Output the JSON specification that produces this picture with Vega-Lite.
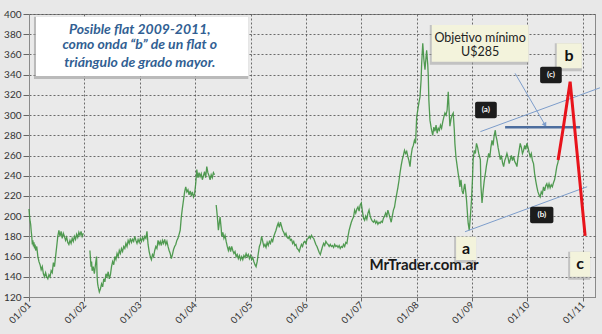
{
  "$schema": "https://vega.github.io/schema/vega-lite/v6.json",
  "width": 566,
  "height": 283,
  "autosize": {"type": "none"},
  "padding": {"left": 29, "top": 14, "right": 7, "bottom": 37},
  "background": "#e8e8e8",
  "config": {
    "view": {"fill": "#eaeaea", "stroke": "#8a8a8a", "strokeWidth": 1},
    "axis": {
      "labelFont": "Lato", "labelFontSize": 10, "labelColor": "#333333",
      "domainColor": "#8a8a8a", "tickColor": "#666666", "tickSize": 5,
      "gridColor": "#555555", "gridDash": [2, 2], "gridOpacity": 0.85, "gridWidth": 1,
      "title": null
    }
  },
  "datasets": {
    "series": [
      {"segment": 1, "year": 2001.00, "price": 207}, {"segment": 1, "year": 2001.01, "price": 200}, {"segment": 1, "year": 2001.02, "price": 195}, {"segment": 1, "year": 2001.03, "price": 192}, {"segment": 1, "year": 2001.04, "price": 185}, {"segment": 1, "year": 2001.05, "price": 180}, {"segment": 1, "year": 2001.06, "price": 172}, {"segment": 1, "year": 2001.07, "price": 176}, {"segment": 1, "year": 2001.08, "price": 170}, {"segment": 1, "year": 2001.09, "price": 174}, {"segment": 1, "year": 2001.10, "price": 168}, {"segment": 1, "year": 2001.11, "price": 172}, {"segment": 1, "year": 2001.12, "price": 166}, {"segment": 1, "year": 2001.14, "price": 170}, {"segment": 1, "year": 2001.16, "price": 160}, {"segment": 1, "year": 2001.18, "price": 155}, {"segment": 1, "year": 2001.20, "price": 152}, {"segment": 1, "year": 2001.22, "price": 147}, {"segment": 1, "year": 2001.24, "price": 150}, {"segment": 1, "year": 2001.26, "price": 143}, {"segment": 1, "year": 2001.28, "price": 140}, {"segment": 1, "year": 2001.30, "price": 144}, {"segment": 1, "year": 2001.32, "price": 140}, {"segment": 1, "year": 2001.34, "price": 138}, {"segment": 1, "year": 2001.36, "price": 142}, {"segment": 1, "year": 2001.38, "price": 140}, {"segment": 1, "year": 2001.40, "price": 146}, {"segment": 1, "year": 2001.42, "price": 144}, {"segment": 1, "year": 2001.44, "price": 154}, {"segment": 1, "year": 2001.46, "price": 150}, {"segment": 1, "year": 2001.48, "price": 160}, {"segment": 1, "year": 2001.50, "price": 170}, {"segment": 1, "year": 2001.52, "price": 180}, {"segment": 1, "year": 2001.54, "price": 186}, {"segment": 1, "year": 2001.56, "price": 180}, {"segment": 1, "year": 2001.58, "price": 185}, {"segment": 1, "year": 2001.60, "price": 178}, {"segment": 1, "year": 2001.62, "price": 183}, {"segment": 1, "year": 2001.64, "price": 180}, {"segment": 1, "year": 2001.66, "price": 176}, {"segment": 1, "year": 2001.68, "price": 179}, {"segment": 1, "year": 2001.70, "price": 174}, {"segment": 1, "year": 2001.72, "price": 172}, {"segment": 1, "year": 2001.74, "price": 176}, {"segment": 1, "year": 2001.76, "price": 173}, {"segment": 1, "year": 2001.78, "price": 178}, {"segment": 1, "year": 2001.80, "price": 175}, {"segment": 1, "year": 2001.82, "price": 180}, {"segment": 1, "year": 2001.84, "price": 177}, {"segment": 1, "year": 2001.86, "price": 182}, {"segment": 1, "year": 2001.88, "price": 179}, {"segment": 1, "year": 2001.90, "price": 184}, {"segment": 1, "year": 2001.92, "price": 181}, {"segment": 1, "year": 2001.94, "price": 185}, {"segment": 1, "year": 2001.96, "price": 180}, {"segment": 1, "year": 2001.98, "price": 183},
      {"segment": 2, "year": 2002.10, "price": 166}, {"segment": 2, "year": 2002.11, "price": 158}, {"segment": 2, "year": 2002.12, "price": 150}, {"segment": 2, "year": 2002.13, "price": 155}, {"segment": 2, "year": 2002.14, "price": 146}, {"segment": 2, "year": 2002.16, "price": 150}, {"segment": 2, "year": 2002.18, "price": 143}, {"segment": 2, "year": 2002.20, "price": 152}, {"segment": 2, "year": 2002.22, "price": 160}, {"segment": 2, "year": 2002.23, "price": 140}, {"segment": 2, "year": 2002.24, "price": 133}, {"segment": 2, "year": 2002.25, "price": 130}, {"segment": 2, "year": 2002.27, "price": 125}, {"segment": 2, "year": 2002.29, "price": 128}, {"segment": 2, "year": 2002.31, "price": 133}, {"segment": 2, "year": 2002.33, "price": 130}, {"segment": 2, "year": 2002.35, "price": 138}, {"segment": 2, "year": 2002.37, "price": 135}, {"segment": 2, "year": 2002.39, "price": 143}, {"segment": 2, "year": 2002.41, "price": 140}, {"segment": 2, "year": 2002.43, "price": 145}, {"segment": 2, "year": 2002.45, "price": 138}, {"segment": 2, "year": 2002.47, "price": 142}, {"segment": 2, "year": 2002.49, "price": 150}, {"segment": 2, "year": 2002.51, "price": 155}, {"segment": 2, "year": 2002.53, "price": 152}, {"segment": 2, "year": 2002.55, "price": 160}, {"segment": 2, "year": 2002.57, "price": 157}, {"segment": 2, "year": 2002.59, "price": 163}, {"segment": 2, "year": 2002.61, "price": 160}, {"segment": 2, "year": 2002.63, "price": 166}, {"segment": 2, "year": 2002.65, "price": 163}, {"segment": 2, "year": 2002.67, "price": 168}, {"segment": 2, "year": 2002.69, "price": 165}, {"segment": 2, "year": 2002.71, "price": 170}, {"segment": 2, "year": 2002.73, "price": 168}, {"segment": 2, "year": 2002.75, "price": 173}, {"segment": 2, "year": 2002.77, "price": 170}, {"segment": 2, "year": 2002.79, "price": 176}, {"segment": 2, "year": 2002.81, "price": 173}, {"segment": 2, "year": 2002.83, "price": 178}, {"segment": 2, "year": 2002.85, "price": 174}, {"segment": 2, "year": 2002.87, "price": 177}, {"segment": 2, "year": 2002.89, "price": 175}, {"segment": 2, "year": 2002.91, "price": 180}, {"segment": 2, "year": 2002.93, "price": 176}, {"segment": 2, "year": 2002.95, "price": 173}, {"segment": 2, "year": 2002.97, "price": 177}, {"segment": 2, "year": 2002.99, "price": 174}, {"segment": 2, "year": 2003.01, "price": 178}, {"segment": 2, "year": 2003.03, "price": 175}, {"segment": 2, "year": 2003.05, "price": 179}, {"segment": 2, "year": 2003.07, "price": 176}, {"segment": 2, "year": 2003.09, "price": 180}, {"segment": 2, "year": 2003.11, "price": 178}, {"segment": 2, "year": 2003.13, "price": 185}, {"segment": 2, "year": 2003.15, "price": 172}, {"segment": 2, "year": 2003.17, "price": 165}, {"segment": 2, "year": 2003.19, "price": 160}, {"segment": 2, "year": 2003.21, "price": 157}, {"segment": 2, "year": 2003.23, "price": 162}, {"segment": 2, "year": 2003.25, "price": 160}, {"segment": 2, "year": 2003.27, "price": 166}, {"segment": 2, "year": 2003.29, "price": 170}, {"segment": 2, "year": 2003.31, "price": 168}, {"segment": 2, "year": 2003.33, "price": 176}, {"segment": 2, "year": 2003.35, "price": 172}, {"segment": 2, "year": 2003.37, "price": 175}, {"segment": 2, "year": 2003.39, "price": 171}, {"segment": 2, "year": 2003.41, "price": 176}, {"segment": 2, "year": 2003.43, "price": 173}, {"segment": 2, "year": 2003.45, "price": 177}, {"segment": 2, "year": 2003.47, "price": 172}, {"segment": 2, "year": 2003.49, "price": 175}, {"segment": 2, "year": 2003.51, "price": 170}, {"segment": 2, "year": 2003.53, "price": 166}, {"segment": 2, "year": 2003.55, "price": 163}, {"segment": 2, "year": 2003.57, "price": 158}, {"segment": 2, "year": 2003.59, "price": 162}, {"segment": 2, "year": 2003.61, "price": 167}, {"segment": 2, "year": 2003.63, "price": 170}, {"segment": 2, "year": 2003.65, "price": 172}, {"segment": 2, "year": 2003.67, "price": 176}, {"segment": 2, "year": 2003.69, "price": 178}, {"segment": 2, "year": 2003.71, "price": 182}, {"segment": 2, "year": 2003.73, "price": 186}, {"segment": 2, "year": 2003.75, "price": 199}, {"segment": 2, "year": 2003.77, "price": 208}, {"segment": 2, "year": 2003.79, "price": 216}, {"segment": 2, "year": 2003.81, "price": 224}, {"segment": 2, "year": 2003.83, "price": 229}, {"segment": 2, "year": 2003.85, "price": 224}, {"segment": 2, "year": 2003.87, "price": 226}, {"segment": 2, "year": 2003.89, "price": 221}, {"segment": 2, "year": 2003.91, "price": 225}, {"segment": 2, "year": 2003.93, "price": 220}, {"segment": 2, "year": 2003.95, "price": 224}, {"segment": 2, "year": 2003.97, "price": 219}, {"segment": 2, "year": 2003.99, "price": 222}, {"segment": 2, "year": 2004.01, "price": 232}, {"segment": 2, "year": 2004.03, "price": 246}, {"segment": 2, "year": 2004.05, "price": 238}, {"segment": 2, "year": 2004.07, "price": 243}, {"segment": 2, "year": 2004.09, "price": 239}, {"segment": 2, "year": 2004.11, "price": 242}, {"segment": 2, "year": 2004.13, "price": 236}, {"segment": 2, "year": 2004.15, "price": 240}, {"segment": 2, "year": 2004.17, "price": 244}, {"segment": 2, "year": 2004.19, "price": 238}, {"segment": 2, "year": 2004.21, "price": 249}, {"segment": 2, "year": 2004.23, "price": 243}, {"segment": 2, "year": 2004.25, "price": 240}, {"segment": 2, "year": 2004.27, "price": 236}, {"segment": 2, "year": 2004.29, "price": 241}, {"segment": 2, "year": 2004.31, "price": 238}, {"segment": 2, "year": 2004.33, "price": 243}, {"segment": 2, "year": 2004.35, "price": 241},
      {"segment": 3, "year": 2004.38, "price": 211}, {"segment": 3, "year": 2004.40, "price": 200}, {"segment": 3, "year": 2004.42, "price": 186}, {"segment": 3, "year": 2004.44, "price": 195}, {"segment": 3, "year": 2004.45, "price": 199}, {"segment": 3, "year": 2004.47, "price": 188}, {"segment": 3, "year": 2004.48, "price": 180}, {"segment": 3, "year": 2004.50, "price": 184}, {"segment": 3, "year": 2004.52, "price": 178}, {"segment": 3, "year": 2004.54, "price": 181}, {"segment": 3, "year": 2004.56, "price": 175}, {"segment": 3, "year": 2004.58, "price": 170}, {"segment": 3, "year": 2004.60, "price": 166}, {"segment": 3, "year": 2004.62, "price": 170}, {"segment": 3, "year": 2004.64, "price": 165}, {"segment": 3, "year": 2004.66, "price": 170}, {"segment": 3, "year": 2004.68, "price": 166}, {"segment": 3, "year": 2004.70, "price": 163}, {"segment": 3, "year": 2004.72, "price": 165}, {"segment": 3, "year": 2004.74, "price": 160}, {"segment": 3, "year": 2004.76, "price": 162}, {"segment": 3, "year": 2004.78, "price": 158}, {"segment": 3, "year": 2004.80, "price": 161}, {"segment": 3, "year": 2004.82, "price": 157}, {"segment": 3, "year": 2004.84, "price": 160}, {"segment": 3, "year": 2004.86, "price": 157}, {"segment": 3, "year": 2004.88, "price": 161}, {"segment": 3, "year": 2004.90, "price": 159}, {"segment": 3, "year": 2004.92, "price": 163}, {"segment": 3, "year": 2004.94, "price": 160}, {"segment": 3, "year": 2004.96, "price": 162}, {"segment": 3, "year": 2004.98, "price": 158}, {"segment": 3, "year": 2005.00, "price": 161}, {"segment": 3, "year": 2005.02, "price": 157}, {"segment": 3, "year": 2005.04, "price": 159}, {"segment": 3, "year": 2005.06, "price": 155}, {"segment": 3, "year": 2005.08, "price": 152}, {"segment": 3, "year": 2005.10, "price": 150}, {"segment": 3, "year": 2005.12, "price": 155}, {"segment": 3, "year": 2005.14, "price": 163}, {"segment": 3, "year": 2005.16, "price": 170}, {"segment": 3, "year": 2005.18, "price": 173}, {"segment": 3, "year": 2005.20, "price": 180}, {"segment": 3, "year": 2005.22, "price": 175}, {"segment": 3, "year": 2005.24, "price": 170}, {"segment": 3, "year": 2005.26, "price": 172}, {"segment": 3, "year": 2005.28, "price": 169}, {"segment": 3, "year": 2005.30, "price": 174}, {"segment": 3, "year": 2005.32, "price": 171}, {"segment": 3, "year": 2005.34, "price": 175}, {"segment": 3, "year": 2005.36, "price": 173}, {"segment": 3, "year": 2005.38, "price": 177}, {"segment": 3, "year": 2005.40, "price": 175}, {"segment": 3, "year": 2005.42, "price": 180}, {"segment": 3, "year": 2005.44, "price": 183}, {"segment": 3, "year": 2005.46, "price": 186}, {"segment": 3, "year": 2005.48, "price": 190}, {"segment": 3, "year": 2005.50, "price": 193}, {"segment": 3, "year": 2005.52, "price": 189}, {"segment": 3, "year": 2005.54, "price": 194}, {"segment": 3, "year": 2005.56, "price": 190}, {"segment": 3, "year": 2005.58, "price": 186}, {"segment": 3, "year": 2005.60, "price": 184}, {"segment": 3, "year": 2005.62, "price": 181}, {"segment": 3, "year": 2005.64, "price": 183}, {"segment": 3, "year": 2005.66, "price": 179}, {"segment": 3, "year": 2005.68, "price": 178}, {"segment": 3, "year": 2005.70, "price": 180}, {"segment": 3, "year": 2005.72, "price": 176}, {"segment": 3, "year": 2005.74, "price": 177}, {"segment": 3, "year": 2005.76, "price": 173}, {"segment": 3, "year": 2005.78, "price": 175}, {"segment": 3, "year": 2005.80, "price": 171}, {"segment": 3, "year": 2005.82, "price": 172}, {"segment": 3, "year": 2005.84, "price": 168}, {"segment": 3, "year": 2005.86, "price": 167}, {"segment": 3, "year": 2005.88, "price": 165}, {"segment": 3, "year": 2005.90, "price": 169}, {"segment": 3, "year": 2005.92, "price": 172}, {"segment": 3, "year": 2005.94, "price": 170}, {"segment": 3, "year": 2005.96, "price": 174}, {"segment": 3, "year": 2005.98, "price": 175}, {"segment": 3, "year": 2006.00, "price": 173}, {"segment": 3, "year": 2006.02, "price": 177}, {"segment": 3, "year": 2006.04, "price": 178}, {"segment": 3, "year": 2006.06, "price": 180}, {"segment": 3, "year": 2006.08, "price": 178}, {"segment": 3, "year": 2006.10, "price": 181}, {"segment": 3, "year": 2006.12, "price": 179}, {"segment": 3, "year": 2006.14, "price": 178}, {"segment": 3, "year": 2006.16, "price": 175}, {"segment": 3, "year": 2006.18, "price": 172}, {"segment": 3, "year": 2006.20, "price": 170}, {"segment": 3, "year": 2006.22, "price": 167}, {"segment": 3, "year": 2006.24, "price": 164}, {"segment": 3, "year": 2006.26, "price": 162}, {"segment": 3, "year": 2006.28, "price": 166}, {"segment": 3, "year": 2006.30, "price": 170}, {"segment": 3, "year": 2006.32, "price": 173}, {"segment": 3, "year": 2006.34, "price": 171}, {"segment": 3, "year": 2006.36, "price": 175}, {"segment": 3, "year": 2006.38, "price": 173}, {"segment": 3, "year": 2006.40, "price": 172}, {"segment": 3, "year": 2006.42, "price": 170}, {"segment": 3, "year": 2006.44, "price": 172}, {"segment": 3, "year": 2006.46, "price": 170}, {"segment": 3, "year": 2006.48, "price": 171}, {"segment": 3, "year": 2006.50, "price": 169}, {"segment": 3, "year": 2006.52, "price": 172}, {"segment": 3, "year": 2006.54, "price": 170}, {"segment": 3, "year": 2006.56, "price": 171}, {"segment": 3, "year": 2006.58, "price": 169}, {"segment": 3, "year": 2006.60, "price": 171}, {"segment": 3, "year": 2006.62, "price": 168}, {"segment": 3, "year": 2006.64, "price": 170}, {"segment": 3, "year": 2006.66, "price": 169}, {"segment": 3, "year": 2006.68, "price": 172}, {"segment": 3, "year": 2006.70, "price": 170}, {"segment": 3, "year": 2006.72, "price": 174}, {"segment": 3, "year": 2006.74, "price": 173}, {"segment": 3, "year": 2006.76, "price": 180}, {"segment": 3, "year": 2006.78, "price": 186}, {"segment": 3, "year": 2006.80, "price": 190}, {"segment": 3, "year": 2006.82, "price": 194}, {"segment": 3, "year": 2006.84, "price": 197}, {"segment": 3, "year": 2006.86, "price": 199}, {"segment": 3, "year": 2006.88, "price": 206}, {"segment": 3, "year": 2006.90, "price": 203}, {"segment": 3, "year": 2006.92, "price": 207}, {"segment": 3, "year": 2006.94, "price": 209}, {"segment": 3, "year": 2006.96, "price": 205}, {"segment": 3, "year": 2006.98, "price": 211}, {"segment": 3, "year": 2007.00, "price": 213}, {"segment": 3, "year": 2007.02, "price": 205}, {"segment": 3, "year": 2007.04, "price": 198}, {"segment": 3, "year": 2007.06, "price": 196}, {"segment": 3, "year": 2007.08, "price": 200}, {"segment": 3, "year": 2007.10, "price": 197}, {"segment": 3, "year": 2007.12, "price": 203}, {"segment": 3, "year": 2007.14, "price": 206}, {"segment": 3, "year": 2007.16, "price": 200}, {"segment": 3, "year": 2007.18, "price": 197}, {"segment": 3, "year": 2007.20, "price": 195}, {"segment": 3, "year": 2007.22, "price": 194}, {"segment": 3, "year": 2007.24, "price": 196}, {"segment": 3, "year": 2007.26, "price": 193}, {"segment": 3, "year": 2007.28, "price": 195}, {"segment": 3, "year": 2007.30, "price": 192}, {"segment": 3, "year": 2007.32, "price": 194}, {"segment": 3, "year": 2007.34, "price": 193}, {"segment": 3, "year": 2007.36, "price": 195}, {"segment": 3, "year": 2007.38, "price": 194}, {"segment": 3, "year": 2007.40, "price": 198}, {"segment": 3, "year": 2007.42, "price": 200}, {"segment": 3, "year": 2007.44, "price": 203}, {"segment": 3, "year": 2007.46, "price": 200}, {"segment": 3, "year": 2007.48, "price": 206}, {"segment": 3, "year": 2007.50, "price": 202}, {"segment": 3, "year": 2007.52, "price": 198}, {"segment": 3, "year": 2007.54, "price": 194}, {"segment": 3, "year": 2007.56, "price": 200}, {"segment": 3, "year": 2007.58, "price": 206}, {"segment": 3, "year": 2007.60, "price": 209}, {"segment": 3, "year": 2007.62, "price": 216}, {"segment": 3, "year": 2007.64, "price": 222}, {"segment": 3, "year": 2007.66, "price": 228}, {"segment": 3, "year": 2007.68, "price": 235}, {"segment": 3, "year": 2007.70, "price": 243}, {"segment": 3, "year": 2007.72, "price": 250}, {"segment": 3, "year": 2007.74, "price": 256}, {"segment": 3, "year": 2007.76, "price": 260}, {"segment": 3, "year": 2007.78, "price": 265}, {"segment": 3, "year": 2007.80, "price": 262}, {"segment": 3, "year": 2007.82, "price": 264}, {"segment": 3, "year": 2007.84, "price": 259}, {"segment": 3, "year": 2007.86, "price": 255}, {"segment": 3, "year": 2007.88, "price": 249}, {"segment": 3, "year": 2007.90, "price": 260}, {"segment": 3, "year": 2007.92, "price": 267}, {"segment": 3, "year": 2007.94, "price": 270}, {"segment": 3, "year": 2007.96, "price": 275}, {"segment": 3, "year": 2007.98, "price": 272}, {"segment": 3, "year": 2008.00, "price": 298}, {"segment": 3, "year": 2008.02, "price": 305}, {"segment": 3, "year": 2008.04, "price": 312}, {"segment": 3, "year": 2008.06, "price": 318}, {"segment": 3, "year": 2008.08, "price": 335}, {"segment": 3, "year": 2008.09, "price": 351}, {"segment": 3, "year": 2008.11, "price": 371}, {"segment": 3, "year": 2008.13, "price": 355}, {"segment": 3, "year": 2008.15, "price": 345}, {"segment": 3, "year": 2008.17, "price": 358}, {"segment": 3, "year": 2008.18, "price": 364}, {"segment": 3, "year": 2008.20, "price": 350}, {"segment": 3, "year": 2008.21, "price": 338}, {"segment": 3, "year": 2008.22, "price": 315}, {"segment": 3, "year": 2008.24, "price": 295}, {"segment": 3, "year": 2008.26, "price": 288}, {"segment": 3, "year": 2008.27, "price": 285}, {"segment": 3, "year": 2008.29, "price": 280}, {"segment": 3, "year": 2008.31, "price": 288}, {"segment": 3, "year": 2008.33, "price": 284}, {"segment": 3, "year": 2008.35, "price": 290}, {"segment": 3, "year": 2008.37, "price": 282}, {"segment": 3, "year": 2008.39, "price": 287}, {"segment": 3, "year": 2008.41, "price": 285}, {"segment": 3, "year": 2008.43, "price": 290}, {"segment": 3, "year": 2008.45, "price": 287}, {"segment": 3, "year": 2008.47, "price": 293}, {"segment": 3, "year": 2008.49, "price": 298}, {"segment": 3, "year": 2008.51, "price": 302}, {"segment": 3, "year": 2008.53, "price": 300}, {"segment": 3, "year": 2008.55, "price": 305}, {"segment": 3, "year": 2008.57, "price": 323}, {"segment": 3, "year": 2008.59, "price": 300}, {"segment": 3, "year": 2008.60, "price": 289}, {"segment": 3, "year": 2008.62, "price": 296}, {"segment": 3, "year": 2008.64, "price": 300}, {"segment": 3, "year": 2008.66, "price": 302}, {"segment": 3, "year": 2008.68, "price": 285}, {"segment": 3, "year": 2008.69, "price": 272}, {"segment": 3, "year": 2008.71, "price": 258}, {"segment": 3, "year": 2008.73, "price": 250}, {"segment": 3, "year": 2008.75, "price": 242}, {"segment": 3, "year": 2008.77, "price": 235}, {"segment": 3, "year": 2008.78, "price": 229}, {"segment": 3, "year": 2008.80, "price": 236}, {"segment": 3, "year": 2008.82, "price": 225}, {"segment": 3, "year": 2008.84, "price": 222}, {"segment": 3, "year": 2008.86, "price": 230}, {"segment": 3, "year": 2008.87, "price": 232}, {"segment": 3, "year": 2008.89, "price": 222}, {"segment": 3, "year": 2008.90, "price": 216}, {"segment": 3, "year": 2008.92, "price": 200}, {"segment": 3, "year": 2008.93, "price": 193}, {"segment": 3, "year": 2008.95, "price": 186}, {"segment": 3, "year": 2008.97, "price": 200}, {"segment": 3, "year": 2008.99, "price": 216}, {"segment": 3, "year": 2009.01, "price": 240}, {"segment": 3, "year": 2009.02, "price": 256}, {"segment": 3, "year": 2009.04, "price": 265}, {"segment": 3, "year": 2009.06, "price": 262}, {"segment": 3, "year": 2009.08, "price": 272}, {"segment": 3, "year": 2009.10, "price": 268}, {"segment": 3, "year": 2009.12, "price": 262}, {"segment": 3, "year": 2009.15, "price": 256}, {"segment": 3, "year": 2009.16, "price": 230}, {"segment": 3, "year": 2009.18, "price": 213}, {"segment": 3, "year": 2009.20, "price": 225}, {"segment": 3, "year": 2009.22, "price": 235}, {"segment": 3, "year": 2009.24, "price": 242}, {"segment": 3, "year": 2009.26, "price": 250}, {"segment": 3, "year": 2009.28, "price": 256}, {"segment": 3, "year": 2009.30, "price": 262}, {"segment": 3, "year": 2009.32, "price": 258}, {"segment": 3, "year": 2009.34, "price": 268}, {"segment": 3, "year": 2009.36, "price": 275}, {"segment": 3, "year": 2009.38, "price": 270}, {"segment": 3, "year": 2009.40, "price": 280}, {"segment": 3, "year": 2009.42, "price": 285}, {"segment": 3, "year": 2009.43, "price": 280}, {"segment": 3, "year": 2009.45, "price": 275}, {"segment": 3, "year": 2009.47, "price": 268}, {"segment": 3, "year": 2009.49, "price": 262}, {"segment": 3, "year": 2009.51, "price": 256}, {"segment": 3, "year": 2009.53, "price": 260}, {"segment": 3, "year": 2009.55, "price": 253}, {"segment": 3, "year": 2009.57, "price": 249}, {"segment": 3, "year": 2009.59, "price": 255}, {"segment": 3, "year": 2009.61, "price": 258}, {"segment": 3, "year": 2009.63, "price": 262}, {"segment": 3, "year": 2009.65, "price": 258}, {"segment": 3, "year": 2009.67, "price": 252}, {"segment": 3, "year": 2009.69, "price": 256}, {"segment": 3, "year": 2009.71, "price": 260}, {"segment": 3, "year": 2009.73, "price": 255}, {"segment": 3, "year": 2009.75, "price": 259}, {"segment": 3, "year": 2009.77, "price": 254}, {"segment": 3, "year": 2009.79, "price": 252}, {"segment": 3, "year": 2009.81, "price": 249}, {"segment": 3, "year": 2009.83, "price": 258}, {"segment": 3, "year": 2009.85, "price": 265}, {"segment": 3, "year": 2009.87, "price": 272}, {"segment": 3, "year": 2009.89, "price": 268}, {"segment": 3, "year": 2009.91, "price": 262}, {"segment": 3, "year": 2009.93, "price": 265}, {"segment": 3, "year": 2009.95, "price": 270}, {"segment": 3, "year": 2009.97, "price": 266}, {"segment": 3, "year": 2009.99, "price": 272}, {"segment": 3, "year": 2010.01, "price": 268}, {"segment": 3, "year": 2010.03, "price": 263}, {"segment": 3, "year": 2010.05, "price": 259}, {"segment": 3, "year": 2010.07, "price": 262}, {"segment": 3, "year": 2010.09, "price": 255}, {"segment": 3, "year": 2010.11, "price": 252}, {"segment": 3, "year": 2010.13, "price": 242}, {"segment": 3, "year": 2010.15, "price": 235}, {"segment": 3, "year": 2010.17, "price": 229}, {"segment": 3, "year": 2010.19, "price": 224}, {"segment": 3, "year": 2010.21, "price": 221}, {"segment": 3, "year": 2010.23, "price": 219}, {"segment": 3, "year": 2010.25, "price": 224}, {"segment": 3, "year": 2010.27, "price": 222}, {"segment": 3, "year": 2010.29, "price": 229}, {"segment": 3, "year": 2010.31, "price": 225}, {"segment": 3, "year": 2010.33, "price": 230}, {"segment": 3, "year": 2010.35, "price": 232}, {"segment": 3, "year": 2010.37, "price": 228}, {"segment": 3, "year": 2010.39, "price": 232}, {"segment": 3, "year": 2010.41, "price": 228}, {"segment": 3, "year": 2010.43, "price": 231}, {"segment": 3, "year": 2010.45, "price": 229}, {"segment": 3, "year": 2010.47, "price": 233}, {"segment": 3, "year": 2010.49, "price": 236}, {"segment": 3, "year": 2010.51, "price": 242}, {"segment": 3, "year": 2010.53, "price": 249}, {"segment": 3, "year": 2010.55, "price": 253}, {"segment": 3, "year": 2010.56, "price": 256}
    ],
    "trendlines": [
      {"line": "upper", "year": 2009.15, "price": 283.6}, {"line": "upper", "year": 2011.31, "price": 327},
      {"line": "lower", "year": 2008.874, "price": 184.6}, {"line": "lower", "year": 2011.078, "price": 229.1},
      {"line": "arrow", "year": 2009.777, "price": 341.3}, {"line": "arrow", "year": 2010.31, "price": 291}
    ],
    "target": [
      {"year": 2009.597, "price": 288}, {"year": 2010.951, "price": 288}
    ],
    "arrowhead": [{"year": 2010.319, "price": 290.2}],
    "projection": [
      {"year": 2010.554, "price": 255.6}, {"year": 2010.65, "price": 288.5}, {"year": 2010.771, "price": 333}, {"year": 2011.042, "price": 180.4}
    ],
    "whitebox": [{"year": 2001.126, "year2": 2004.96, "price": 338.7, "price2": 397.3}],
    "yellowboxes": [
      {"label": "objetivo", "year": 2008.273, "year2": 2010.018, "price": 352.8, "price2": 389.1},
      {"label": "b", "year": 2010.530, "year2": 2010.982, "price": 346.3, "price2": 371},
      {"label": "a", "year": 2008.712, "year2": 2009.073, "price": 156.6, "price2": 179.7},
      {"label": "c", "year": 2010.771, "year2": 2011.132, "price": 140, "price2": 164.8}
    ],
    "blackboxes": [
      {"label": "(c)", "year": 2010.229, "year2": 2010.62, "price": 331.4, "price2": 347.9},
      {"label": "(a)", "year": 2009.055, "year2": 2009.447, "price": 296.8, "price2": 313.2},
      {"label": "(b)", "year": 2010.048, "year2": 2010.469, "price": 192.9, "price2": 209.3}
    ],
    "titlelines": [
      {"text": "Posible flat  2009-2011,", "year": 2003.0, "price": 384.2},
      {"text": "como onda “b” de  un flat o", "year": 2003.0, "price": 369.3},
      {"text": "triángulo de  grado mayor.", "year": 2003.0, "price": 351.2}
    ],
    "notelines": [
      {"text": "Objetivo mínimo", "year": 2009.145, "price": 376},
      {"text": "U$285", "year": 2009.145, "price": 362.7}
    ],
    "waves": [
      {"text": "b", "year": 2010.753, "price": 358.4},
      {"text": "a", "year": 2008.892, "price": 167.5},
      {"text": "c", "year": 2010.951, "price": 152.6}
    ],
    "subwaves": [
      {"text": "(c)", "year": 2010.424, "price": 339.6},
      {"text": "(a)", "year": 2009.25, "price": 305},
      {"text": "(b)", "year": 2010.26, "price": 201}
    ],
    "brand": [{"text": "MrTrader.com.ar", "year": 2008.134, "price": 151.7}]
  },
  "encoding": {
    "x": {
      "field": "year", "type": "quantitative",
      "scale": {"domain": [2001, 2011.22], "nice": false, "zero": false},
      "axis": {
        "values": [2001, 2002, 2003, 2004, 2005, 2006, 2007, 2008, 2009, 2010, 2011],
        "labelExpr": "'01/' + (datum.value < 2010 ? '0' : '') + (datum.value - 2000)",
        "labelAngle": -45, "labelAlign": "right", "labelBaseline": "middle", "labelFontSize": 9.5,
        "labelPadding": 2, "grid": true, "tickSize": 4
      }
    },
    "y": {
      "field": "price", "type": "quantitative",
      "scale": {"domain": [120, 400], "nice": false, "zero": false},
      "axis": {
        "values": [120, 140, 160, 180, 200, 220, 240, 260, 280, 300, 320, 340, 360, 380, 400],
        "grid": true, "labelPadding": 2, "tickSize": 6
      }
    }
  },
  "layer": [
    {
      "data": {"name": "series"},
      "mark": {"type": "line", "stroke": "#3f9140", "strokeWidth": 1.3, "opacity": 0.9, "interpolate": "linear"},
      "encoding": {"detail": {"field": "segment"}}
    },
    {
      "data": {"name": "trendlines"},
      "mark": {"type": "line", "stroke": "#7d9dcb", "strokeWidth": 1},
      "encoding": {"detail": {"field": "line"}}
    },
    {
      "data": {"name": "arrowhead"},
      "mark": {"type": "point", "shape": "triangle-up", "angle": 150, "size": 28, "filled": true, "fill": "#7d9dcb", "opacity": 1}
    },
    {
      "data": {"name": "target"},
      "mark": {"type": "line", "stroke": "#4c6d9e", "strokeWidth": 2.5}
    },
    {
      "data": {"name": "projection"},
      "mark": {"type": "line", "stroke": "#e8131b", "strokeWidth": 3}
    },
    {
      "data": {"name": "whitebox"},
      "mark": {"type": "rect", "fill": "#9a9a9a", "opacity": 0.6, "xOffset": -2, "yOffset": 3},
      "encoding": {"x2": {"field": "year2"}, "y2": {"field": "price2"}}
    },
    {
      "data": {"name": "whitebox"},
      "mark": {"type": "rect", "fill": "#ffffff"},
      "encoding": {"x2": {"field": "year2"}, "y2": {"field": "price2"}}
    },
    {
      "data": {"name": "yellowboxes"},
      "mark": {"type": "rect", "fill": "#9a9a9a", "opacity": 0.5, "xOffset": -2, "yOffset": 3},
      "encoding": {"x2": {"field": "year2"}, "y2": {"field": "price2"}}
    },
    {
      "data": {"name": "yellowboxes"},
      "mark": {"type": "rect", "fill": "#f3f3dc"},
      "encoding": {"x2": {"field": "year2"}, "y2": {"field": "price2"}}
    },
    {
      "data": {"name": "blackboxes"},
      "mark": {"type": "rect", "fill": "#1c1c1c", "cornerRadius": 2},
      "encoding": {"x2": {"field": "year2"}, "y2": {"field": "price2"}}
    },
    {
      "data": {"name": "titlelines"},
      "mark": {"type": "text", "font": "Lato", "fontSize": 14, "fontStyle": "italic", "fontWeight": "bold", "fill": "#325f93", "align": "center", "baseline": "middle"},
      "encoding": {"text": {"field": "text"}}
    },
    {
      "data": {"name": "notelines"},
      "mark": {"type": "text", "font": "Lato", "fontSize": 12.5, "fill": "#222222", "align": "center", "baseline": "middle"},
      "encoding": {"text": {"field": "text"}}
    },
    {
      "data": {"name": "waves"},
      "mark": {"type": "text", "font": "Lato", "fontSize": 16, "fontWeight": "bold", "fill": "#111111", "align": "center", "baseline": "middle"},
      "encoding": {"text": {"field": "text"}}
    },
    {
      "data": {"name": "subwaves"},
      "mark": {"type": "text", "font": "Lato", "fontSize": 8, "fontWeight": "bold", "fill": "#ffffff", "align": "center", "baseline": "middle"},
      "encoding": {"text": {"field": "text"}}
    },
    {
      "data": {"name": "brand"},
      "mark": {"type": "text", "font": "Lato", "fontSize": 15, "fontWeight": "bold", "fill": "#1a1a1a", "align": "center", "baseline": "middle"},
      "encoding": {"text": {"field": "text"}}
    }
  ]
}
